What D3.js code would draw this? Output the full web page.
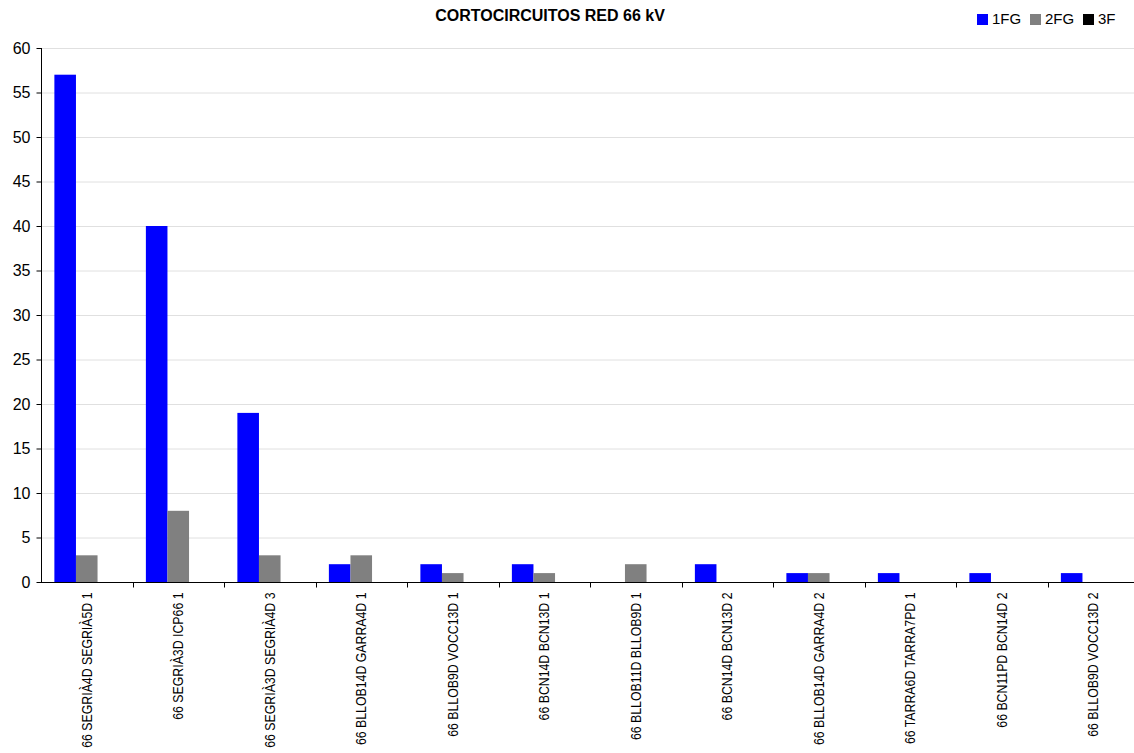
<!DOCTYPE html>
<html>
<head>
<meta charset="utf-8">
<script src="https://cdn.jsdelivr.net/npm/d3@7"></script>
<style>
  html, body { margin: 0; padding: 0; background: #fff; }
  svg { display: block; }
</style>
</head>
<body>
<svg id="chart" width="1134" height="753"></svg>
<script>
// Short-circuit counts per 66 kV line
const categories = [
  "66 SEGRIÀ4D SEGRIÀ5D 1",
  "66 SEGRIÀ3D ICP66 1",
  "66 SEGRIÀ3D SEGRIÀ4D 3",
  "66 BLLOB14D GARRA4D 1",
  "66 BLLOB9D VOCC13D 1",
  "66 BCN14D BCN13D 1",
  "66 BLLOB11D BLLOB9D 1",
  "66 BCN14D BCN13D 2",
  "66 BLLOB14D GARRA4D 2",
  "66 TARRA6D TARRA7PD 1",
  "66 BCN11PD BCN14D 2",
  "66 BLLOB9D VOCC13D 2"
];
const seriesNames = ["1FG", "2FG", "3F"];
const values1FG = [57, 40, 19, 2, 2, 2, 0, 2, 1, 1, 1, 1];
const values2FG = [3, 8, 3, 3, 1, 1, 2, 0, 1, 0, 0, 0];
const values3F  = [0, 0, 0, 0, 0, 0, 0, 0, 0, 0, 0, 0];
const yTicks = [0, 5, 10, 15, 20, 25, 30, 35, 40, 45, 50, 55, 60];
const colors = ["#0000ff", "#808080", "#000000"];

const seriesValues = [values1FG, values2FG, values3F];

const svg = d3.select("#chart");
const plotLeft = 41, plotRight = 1139, plotTop = 48, plotBottom = 582;

const x = d3.scaleBand().domain(categories).range([plotLeft, plotRight]).paddingInner(0).paddingOuter(0);
const inner = d3.scaleBand().domain(seriesNames).range([0, x.bandwidth()]).paddingOuter(0.62).paddingInner(0);
const y = d3.scaleLinear().domain([0, 60]).range([plotBottom, plotTop]);

// horizontal gridlines
svg.append("g")
  .selectAll("line")
  .data(yTicks.filter(d => d > 0))
  .join("line")
  .attr("x1", plotLeft).attr("x2", plotRight)
  .attr("y1", d => y(d) + 0.5).attr("y2", d => y(d) + 0.5)
  .attr("stroke", "#e0e0e0")
  .attr("stroke-width", 1);

// bars
const groups = svg.append("g")
  .selectAll("g")
  .data(categories)
  .join("g")
  .attr("transform", d => `translate(${x(d)},0)`);

groups.selectAll("rect")
  .data((d, i) => seriesNames.map((s, k) => ({ s, v: seriesValues[k][i], k })))
  .join("rect")
  .attr("x", d => inner(d.s))
  .attr("width", inner.bandwidth())
  .attr("y", d => y(d.v))
  .attr("height", d => y(0) - y(d.v))
  .attr("fill", d => colors[d.k]);

// y axis
const yAxis = d3.axisLeft(y).tickValues(yTicks).tickSize(5).tickPadding(6).tickFormat(d3.format("d"));
const gy = svg.append("g").attr("transform", `translate(${plotLeft + 0.5},0)`).call(yAxis);
gy.select(".domain").attr("stroke", "#000").attr("d", `M0,${plotTop}V${plotBottom}`);
gy.selectAll(".tick line").attr("stroke", "#000");
gy.selectAll(".tick text")
  .attr("font-family", "Arial, 'Liberation Sans', sans-serif")
  .attr("font-size", 16)
  .attr("fill", "#000");

// x axis line with ticks at band boundaries
const gx = svg.append("g").attr("transform", `translate(0,${plotBottom + 0.5})`);
gx.append("line").attr("x1", plotLeft).attr("x2", plotRight).attr("stroke", "#000");
gx.selectAll("line.tk")
  .data(categories.slice(1))
  .join("line")
  .attr("class", "tk")
  .attr("x1", d => Math.round(x(d)) + 0.5).attr("x2", d => Math.round(x(d)) + 0.5)
  .attr("y1", 0).attr("y2", 5)
  .attr("stroke", "#000");

// rotated category labels, condensed horizontally along the reading direction
gx.selectAll("text")
  .data(categories)
  .join("text")
  .attr("transform", d => `translate(${x(d) + x.bandwidth() / 2 + 5},10) rotate(-90) scale(0.88,1)`)
  .attr("text-anchor", "end")
  .attr("font-family", "'Liberation Sans Narrow', 'Arial Narrow', Arial, sans-serif")
  .attr("font-size", 14)
  .attr("fill", "#000")
  .text(d => d);

// title
svg.append("text")
  .attr("x", 550).attr("y", 21)
  .attr("text-anchor", "middle")
  .attr("font-family", "Arial, 'Liberation Sans', sans-serif")
  .attr("font-weight", "bold")
  .attr("font-size", 16)
  .text("CORTOCIRCUITOS RED 66 kV");

// legend
const legendX = [977, 1030, 1083];
const lg = svg.append("g")
  .selectAll("g")
  .data(seriesNames)
  .join("g")
  .attr("transform", (d, i) => `translate(${legendX[i]},13)`);
lg.append("rect").attr("width", 11).attr("height", 11).attr("y", 1).attr("fill", (d, i) => colors[i]);
lg.append("text")
  .attr("x", 15).attr("y", 11)
  .attr("font-family", "Arial, 'Liberation Sans', sans-serif")
  .attr("font-size", 15)
  .text(d => d);
</script>
</body>
</html>
